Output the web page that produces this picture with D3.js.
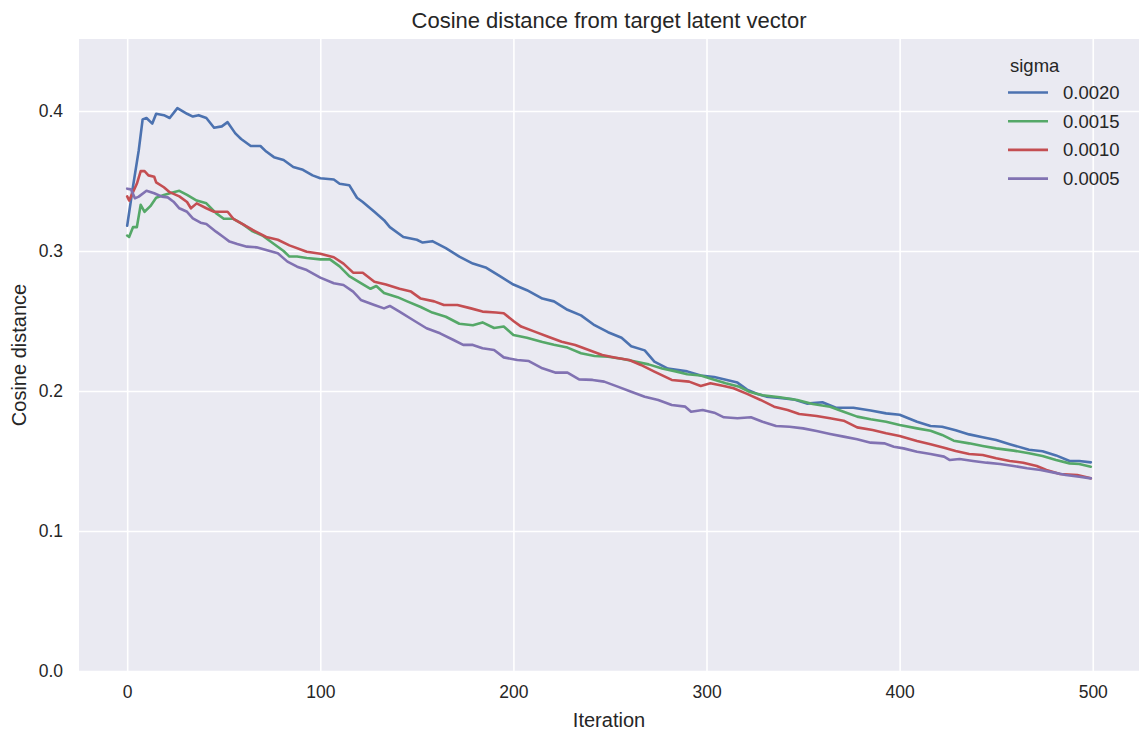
<!DOCTYPE html>
<html>
<head>
<meta charset="utf-8">
<script src="https://cdn.jsdelivr.net/npm/d3@7"></script>
<style>
  body { margin: 0; background: #fff; }
  text { font-family: "Liberation Sans", Arial, sans-serif; fill: #262626; }
</style>
</head>
<body>
<div id="cntr"></div>
<script>
const width = 1139;
const height = 731;

// legend order / series names
const sigmas = ["0.0020", "0.0015", "0.0010", "0.0005"];
const colors = ["#4C72B0", "#55A868", "#C44E52", "#8172B2"];

const xTicks = [0, 100, 200, 300, 400, 500];
const yTicks = [0.0, 0.1, 0.2, 0.3, 0.4];

// [iteration, cosine distance]
const sigma0020 = [
  [0,0.318],[3,0.346],[6,0.372],[8,0.394],[10,0.395],[13,0.391],[15,0.398],[19,0.397],[22,0.395],
  [26,0.402],[31,0.398],[34,0.396],[37,0.397],[41,0.395],[45,0.388],[49,0.389],[52,0.392],
  [56,0.384],[59,0.380],[64,0.375],[69,0.375],[72,0.371],[76,0.367],[81,0.365],[86,0.360],
  [91,0.358],[96,0.354],[100,0.352],[107,0.351],[110,0.348],[115,0.347],[119,0.338],[122,0.335],
  [128,0.328],[133,0.322],[136,0.317],[143,0.310],[150,0.308],[153,0.306],[158,0.307],[165,0.302],
  [172,0.296],[179,0.291],[186,0.288],[193,0.282],[200,0.276],[207,0.272],[215,0.266],[221,0.264],
  [228,0.258],[235,0.254],[242,0.247],[249,0.242],[256,0.238],[261,0.232],[268,0.229],[273,0.221],
  [280,0.216],[290,0.214],[297,0.211],[304,0.210],[310,0.208],[316,0.206],[321,0.201],[326,0.198],
  [331,0.196],[338,0.195],[345,0.194],[352,0.191],[360,0.192],[367,0.188],[376,0.188],[385,0.186],
  [393,0.184],[400,0.183],[409,0.178],[416,0.175],[422,0.1745],[429,0.172],[436,0.169],[443,0.167],
  [450,0.165],[457,0.162],[467,0.158],[474,0.157],[481,0.154],[488,0.150],[493,0.150],[499,0.149]
];
const sigma0015 = [
  [0,0.311],[1,0.310],[3,0.317],[5,0.317],[7,0.333],[9,0.328],[12,0.332],[15,0.338],[19,0.340],
  [24,0.342],[27,0.343],[31,0.340],[36,0.336],[41,0.334],[46,0.327],[50,0.323],[55,0.323],
  [60,0.319],[65,0.314],[70,0.311],[76,0.305],[81,0.300],[84,0.296],[88,0.296],[93,0.295],
  [100,0.294],[105,0.294],[110,0.289],[115,0.282],[121,0.277],[126,0.273],[129,0.275],[133,0.270],
  [140,0.267],[145,0.264],[152,0.260],[158,0.256],[165,0.253],[172,0.248],[179,0.247],[184,0.249],
  [190,0.245],[195,0.246],[200,0.240],[207,0.238],[215,0.235],[221,0.233],[228,0.231],[235,0.227],
  [242,0.225],[249,0.2245],[256,0.223],[263,0.221],[270,0.219],[277,0.216],[284,0.214],[290,0.212],
  [297,0.211],[304,0.208],[310,0.2055],[317,0.203],[322,0.1995],[329,0.197],[338,0.1955],[347,0.1936],
  [355,0.1907],[364,0.1888],[371,0.1852],[378,0.1817],[385,0.1798],[393,0.178],[400,0.1757],
  [409,0.1733],[416,0.1716],[422,0.1686],[428,0.1645],[436,0.1626],[443,0.1607],[450,0.159],
  [459,0.1574],[467,0.1555],[474,0.1536],[481,0.1507],[488,0.1483],[493,0.1479],[499,0.1459]
];
const sigma0010 = [
  [0,0.339],[1,0.336],[2,0.339],[5,0.348],[7,0.357],[9,0.357],[11,0.354],[14,0.353],[15,0.349],
  [19,0.3455],[22,0.342],[27,0.339],[31,0.335],[33,0.3305],[36,0.334],[41,0.3305],[45,0.328],
  [52,0.328],[55,0.323],[60,0.319],[65,0.315],[72,0.310],[78,0.308],[84,0.304],[93,0.2995],
  [100,0.298],[107,0.2955],[112,0.291],[117,0.2845],[122,0.2845],[128,0.278],[134,0.276],
  [141,0.273],[147,0.271],[152,0.266],[159,0.264],[164,0.2614],[171,0.2614],[178,0.259],
  [184,0.2567],[191,0.256],[195,0.2555],[200,0.250],[204,0.246],[211,0.2424],[218,0.2388],
  [225,0.2352],[232,0.2329],[239,0.2293],[246,0.2257],[253,0.2238],[260,0.2221],[266,0.2186],
  [273,0.2138],[282,0.2079],[291,0.2067],[297,0.2036],[302,0.2055],[309,0.2036],[314,0.2019],
  [321,0.1979],[328,0.1936],[335,0.1888],[342,0.1864],[348,0.1836],[357,0.1821],[364,0.1805],
  [371,0.1788],[378,0.174],[386,0.1721],[393,0.1698],[400,0.1679],[409,0.1643],[416,0.1619],
  [423,0.1595],[429,0.1571],[436,0.155],[443,0.1543],[450,0.1519],[457,0.150],[464,0.1488],
  [471,0.1464],[476,0.1436],[483,0.1407],[492,0.140],[499,0.1376]
];
const sigma0005 = [
  [0,0.3445],[2,0.344],[4,0.3376],[6,0.3388],[10,0.343],[14,0.3412],[18,0.3388],[21,0.3383],
  [24,0.3352],[27,0.3305],[31,0.328],[34,0.3233],[38,0.3202],[41,0.3193],[46,0.3138],[50,0.3098],
  [53,0.3067],[57,0.305],[62,0.3031],[67,0.3026],[72,0.3007],[78,0.2983],[83,0.2924],[88,0.2888],
  [93,0.2864],[100,0.281],[107,0.2769],[112,0.2757],[117,0.271],[121,0.265],[128,0.2614],
  [133,0.259],[136,0.2607],[141,0.2567],[148,0.2507],[155,0.2448],[162,0.2412],[169,0.2364],
  [174,0.2329],[179,0.2329],[184,0.2305],[190,0.2293],[195,0.224],[202,0.2221],[208,0.2214],
  [215,0.2162],[222,0.2131],[228,0.2131],[234,0.2083],[241,0.2079],[247,0.2067],[254,0.2031],
  [261,0.1995],[268,0.1959],[275,0.1936],[282,0.19],[289,0.1888],[292,0.1852],[298,0.1864],
  [304,0.1845],[309,0.1812],[316,0.1805],[323,0.1812],[329,0.178],[336,0.175],[343,0.1745],
  [350,0.1733],[357,0.1714],[364,0.1693],[371,0.1674],[378,0.1655],[385,0.1631],[392,0.1626],
  [397,0.1602],[402,0.159],[409,0.1566],[416,0.155],[423,0.1531],[426,0.1507],[431,0.1514],
  [438,0.150],[445,0.1488],[452,0.1479],[459,0.1464],[466,0.1448],[473,0.1436],[480,0.1417],
  [486,0.140],[493,0.1388],[499,0.1376]
];
const seriesData = [sigma0020, sigma0015, sigma0010, sigma0005];

const margin = {top: 39, right: 0, bottom: 60, left: 79};

const svg = d3.select("#cntr")
    .append("svg")
    .attr("width", width)
    .attr("height", height);

const x = d3.scaleLinear()
    .domain([-24.95, 523.95])
    .range([margin.left, width - margin.right]);

const y = d3.scaleLinear()
    .domain([0, 0.4514])
    .range([height - margin.bottom, margin.top]);

// plot background
svg.append("rect")
    .attr("x", margin.left)
    .attr("y", margin.top)
    .attr("width", width - margin.left - margin.right)
    .attr("height", height - margin.top - margin.bottom)
    .attr("fill", "#EAEAF2");

// grid + tick labels through the axes
const xAxis = svg.append("g")
    .attr("transform", "translate(0," + (height - margin.bottom) + ")")
    .call(d3.axisBottom(x).tickValues(xTicks).tickSize(-(height - margin.top - margin.bottom)).tickPadding(15));

const yAxis = svg.append("g")
    .attr("transform", "translate(" + margin.left + ",0)")
    .call(d3.axisLeft(y).tickValues(yTicks).tickFormat(d3.format(".1f"))
        .tickSize(-(width - margin.left - margin.right)).tickPadding(16));

[xAxis, yAxis].forEach(a => {
    a.select(".domain").remove();
    a.selectAll(".tick line").attr("stroke", "#fff").attr("stroke-width", 1.6);
    a.selectAll(".tick text").style("font-size", "17.5px").attr("fill", "#262626");
});

// lines
const line = d3.line()
    .x(d => x(d[0]))
    .y(d => y(d[1]));

svg.append("g")
    .selectAll("path")
    .data(seriesData)
    .join("path")
        .attr("d", line)
        .attr("fill", "none")
        .attr("stroke", (d, i) => colors[i])
        .attr("stroke-width", 2.6)
        .attr("stroke-linejoin", "round")
        .attr("stroke-linecap", "round");

// title and axis labels
svg.append("text")
    .attr("x", x(249.5))
    .attr("y", 28)
    .attr("text-anchor", "middle")
    .style("font-size", "22px")
    .text("Cosine distance from target latent vector");

svg.append("text")
    .attr("x", x(249.5))
    .attr("y", 727)
    .attr("text-anchor", "middle")
    .style("font-size", "20px")
    .text("Iteration");

svg.append("text")
    .attr("transform", "translate(26," + y(0.2257) + ") rotate(-90)")
    .attr("text-anchor", "middle")
    .style("font-size", "20px")
    .text("Cosine distance");

// legend
const legend = svg.append("g").attr("transform", "translate(1008,0)");

legend.append("text")
    .attr("x", 2)
    .attr("y", 72)
    .style("font-size", "18.5px")
    .text("sigma");

const item = legend.selectAll("g.item")
    .data(sigmas)
    .join("g")
        .attr("class", "item")
        .attr("transform", (d, i) => "translate(0," + (92.5 + i * 28.7) + ")");

item.append("line")
    .attr("x1", 0).attr("x2", 40)
    .attr("stroke", (d, i) => colors[i])
    .attr("stroke-width", 2.6);

item.append("text")
    .attr("x", 55)
    .attr("dy", "0.35em")
    .style("font-size", "18.5px")
    .text(d => d);
</script>
</body>
</html>
